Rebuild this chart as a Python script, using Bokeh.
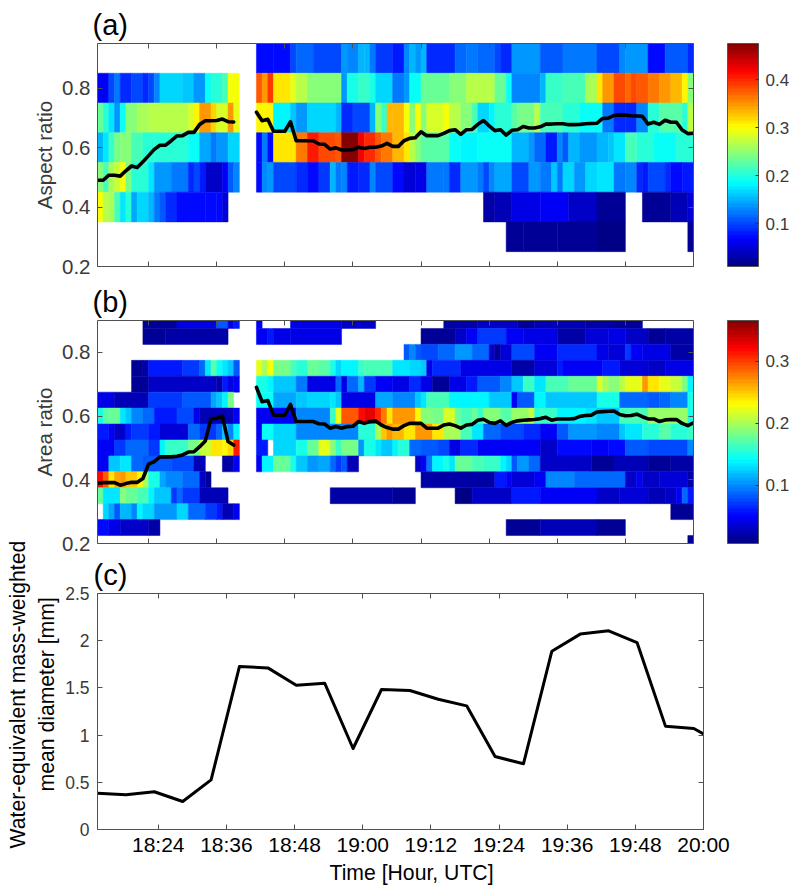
from bokeh.plotting import figure
from bokeh.layouts import column
from bokeh.models import (ColumnDataSource, LinearColorMapper, ColorBar, FixedTicker,
                          LinearAxis, Title, Range1d)
from bokeh.embed import file_html
from bokeh.resources import INLINE

N = None
NCOL = 105
T0 = 15  # minutes after 18:00 of the first column

# ---- panel (a): aspect-ratio histogram rows, (first column, value) runs
A_09 = [(0,N),(28,.075),(31,.07),(34,.10),(35,.115),(38,.105),(43,.135),(44,.13),(46,.155),(47,.15),(48,.125),(49,.095),(52,.08),(54,.13),(55,.155),(56,.135),(57,.15),(58,.09),(63,.115),(65,.125),(67,.115),(70,.10),(71,.085),(73,.14),(78,.11),(82,.125),(88,.10),(92,.13),(93,.14),(97,.075),(100,.11),(104,.09)]
A_08 = [(0,.065),(2,.10),(3,.12),(4,.085),(6,.105),(8,.085),(9,.10),(10,.13),(11,.165),(15,.16),(17,.14),(19,.185),(20,.2),(22,.22),(23,.30),(25,N),(28,.38),(29,.35),(30,.39),(31,.31),(34,.29),(35,.265),(37,.245),(43,.14),(44,.195),(46,.21),(48,.195),(49,.165),(52,.125),(54,.135),(55,.185),(57,.23),(62,.25),(65,.27),(67,.265),(70,.23),(72,.185),(73,.13),(78,.15),(79,.21),(82,.22),(86,.26),(88,.31),(89,.35),(91,.385),(93,.37),(94,.385),(95,.38),(97,.36),(99,.345),(101,.33),(103,.305),(104,.245)]
A_07 = [(0,.23),(1,.20),(2,.175),(3,.135),(4,.19),(5,.25),(7,.26),(9,.265),(16,.28),(17,.305),(18,.35),(20,.32),(21,.285),(23,.35),(24,.29),(25,N),(28,.305),(31,.18),(34,.16),(35,.14),(37,.17),(42,.15),(43,.085),(45,.10),(48,.15),(49,.25),(50,.21),(51,.33),(52,.335),(54,.30),(55,.25),(56,.30),(57,.25),(58,.285),(61,.30),(62,.27),(64,.25),(66,.22),(67,.165),(69,.18),(70,.20),(73,.225),(74,.24),(77,.27),(78,.22),(82,.20),(85,.19),(88,.185),(89,.125),(91,.09),(93,.085),(95,.13),(97,.20),(99,.225),(103,.20),(104,.27)]
A_06 = [(0,.15),(1,.175),(2,.21),(3,.24),(4,.25),(6,.22),(8,.205),(10,.20),(16,.185),(18,.145),(20,.12),(21,.135),(23,.165),(25,N),(28,.07),(29,.125),(30,.075),(31,.315),(35,.365),(37,.405),(39,.385),(42,.375),(43,.47),(46,.42),(47,.40),(49,.38),(50,.36),(52,.335),(54,.31),(55,.265),(56,.25),(57,.225),(62,.19),(64,.18),(67,.185),(73,.155),(76,.14),(77,.115),(79,.08),(81,.13),(82,.11),(83,.15),(85,.135),(88,.15),(90,.16),(91,.175),(93,.215),(95,.20),(98,.185),(102,.20)]
A_05 = [(0,.25),(1,.215),(2,.26),(3,.275),(4,.30),(5,.24),(6,.205),(9,.175),(10,.14),(13,.125),(16,.09),(17,.105),(18,.08),(19,.04),(22,.065),(23,.11),(24,.13),(25,N),(28,.07),(29,.13),(30,.14),(31,.105),(35,.09),(37,.07),(39,.095),(41,.15),(42,.12),(43,.13),(44,.08),(46,.09),(48,.13),(49,.105),(52,.075),(54,.05),(56,.055),(58,.12),(61,.125),(62,.085),(64,.14),(67,.12),(68,.10),(69,.13),(70,.145),(73,.105),(76,.14),(78,.12),(80,.16),(81,.12),(82,.165),(84,.135),(86,.17),(88,.175),(91,.125),(93,.13),(95,.09),(96,.08),(97,.10),(100,.085),(101,.07),(103,.08)]
A_04 = [(0,.30),(1,.27),(2,.26),(3,.22),(4,.175),(5,.20),(6,.145),(7,.17),(9,.155),(10,.125),(11,.11),(12,.09),(14,.07),(19,.07),(21,.075),(22,.05),(23,N),(68,.03),(70,.035),(73,.06),(78,.065),(83,.04),(88,.02),(93,N),(96,.025),(101,.035),(104,.05)]
A_03 = [(0,N),(72,.025),(75,.02),(81,.025),(88,.015),(93,N),(104,.02)]
A_ROWS = [(0.9, A_09), (0.8, A_08), (0.7, A_07), (0.6, A_06), (0.5, A_05), (0.4, A_04), (0.3, A_03)]

# ---- panel (b): area-ratio histogram rows
B_090 = [(0,N),(8,.015),(14,.04),(21,.08),(23,.04),(24,.06),(25,N),(28,.05),(29,N),(34,.04),(43,.03),(49,N),(61,.018),(67,.03),(74,.012),(77,.025),(86,.02),(91,.012),(96,N)]
B_085 = [(0,N),(8,.012),(12,.018),(23,N),(28,.05),(30,.06),(31,.04),(34,.045),(43,N),(57,.015),(63,.03),(65,.05),(67,.07),(72,.05),(75,.04),(81,.02),(86,.035),(90,.04),(93,.03),(97,.012),(100,.02)]
B_080 = [(0,N),(54,.08),(55,.10),(56,.08),(57,.075),(60,.085),(63,.105),(66,.09),(69,.03),(70,.015),(71,.035),(73,.075),(77,.05),(81,.065),(88,.04),(90,.035),(93,.07),(94,.05),(96,.04),(101,.02)]
B_075 = [(0,N),(6,.012),(8,.02),(9,.06),(15,.07),(18,.09),(19,.13),(20,.17),(21,.145),(22,.13),(23,.12),(24,.08),(25,N),(28,.225),(29,.2),(30,.23),(31,.185),(34,.165),(35,.155),(37,.18),(39,.17),(41,.15),(42,.125),(43,.14),(46,.16),(47,.165),(52,.135),(55,.125),(57,.12),(58,.04),(59,.065),(64,.04),(73,.02),(77,.035),(81,.06),(82,.05),(89,.06),(92,.035),(97,.03),(100,.045)]
B_070 = [(0,N),(6,.012),(9,.03),(21,.02),(22,.06),(23,.045),(24,.05),(25,N),(28,.15),(30,.14),(31,.12),(35,.095),(37,.04),(42,.09),(43,.04),(44,.09),(46,.115),(47,.07),(49,.05),(52,.04),(55,.065),(57,.04),(59,.015),(62,.045),(65,.06),(67,.08),(71,.10),(73,.12),(75,.16),(77,.135),(79,.165),(83,.18),(88,.215),(89,.20),(90,.19),(92,.205),(93,.225),(96,.27),(97,.24),(99,.225),(101,.21),(103,.185),(104,.14)]
B_065 = [(0,.04),(3,.025),(9,.07),(15,.08),(20,.11),(21,.12),(22,.14),(23,.185),(24,N),(28,.145),(31,.11),(35,.12),(37,.125),(41,.13),(42,.12),(43,.04),(49,.11),(52,.10),(56,.12),(57,.13),(58,.165),(62,.14),(69,.12),(73,.05),(74,.08),(77,.14),(79,.12),(88,.15),(92,.09),(97,.08),(99,.09),(101,.10),(104,.15)]
B_060 = [(0,.15),(1,.17),(2,.18),(4,.135),(5,.12),(6,.10),(8,.085),(10,.06),(14,.075),(17,.04),(18,.025),(24,.05),(25,N),(28,.05),(35,.10),(41,.16),(42,.22),(43,.29),(46,.32),(47,.33),(49,.305),(50,.28),(51,.24),(52,.27),(56,.235),(57,.19),(59,.185),(61,.215),(63,.18),(64,.165),(66,.18),(67,.16),(68,.19),(71,.17),(73,.195),(76,.21),(77,.155),(78,.16),(81,.14),(86,.135),(88,.12),(92,.165),(97,.195),(104,.15)]
B_055 = [(0,.06),(2,.05),(3,.03),(5,.06),(6,.07),(9,.06),(11,.035),(16,.09),(18,.07),(21,.09),(22,.12),(23,.10),(24,.14),(25,N),(28,.05),(29,.145),(31,.125),(35,.10),(46,.155),(49,.20),(50,.25),(51,.27),(52,.255),(54,.24),(56,.27),(59,.24),(61,.20),(64,.165),(66,.135),(68,.09),(71,.075),(75,.065),(78,.05),(81,.08),(83,.105),(88,.10),(92,.12),(93,.13),(96,.155),(99,.17),(101,.155),(104,.16)]
B_050 = [(0,.05),(3,.07),(5,.085),(9,.07),(11,.14),(12,.16),(16,.185),(18,.21),(20,.24),(22,.235),(23,.245),(24,.31),(25,N),(28,.06),(30,N),(31,.125),(35,.15),(37,.175),(39,.22),(41,.19),(42,.16),(43,.185),(46,.105),(47,.15),(49,.13),(50,.12),(52,.14),(53,.155),(55,.09),(57,.08),(60,.075),(62,.04),(64,.065),(67,.05),(78,.03),(81,.055),(87,.05),(90,.055),(93,.08),(97,.075),(104,.10)]
B_045 = [(0,.05),(2,.12),(4,.13),(5,.135),(6,.09),(8,.08),(13,.075),(17,.025),(19,N),(22,.02),(24,.05),(25,N),(28,.05),(29,.14),(31,.18),(34,.15),(35,.12),(37,.105),(39,.11),(41,.09),(42,.07),(43,.08),(44,.025),(46,N),(56,.03),(57,.05),(58,.095),(59,.14),(61,.15),(62,.135),(63,.18),(66,.165),(68,.16),(71,.14),(72,.125),(73,.08),(74,.105),(76,.09),(78,.03),(87,.012),(91,.025),(97,.015),(101,.02)]
B_040 = [(0,.32),(1,.29),(2,.24),(3,.26),(4,.27),(5,.25),(7,.235),(8,.20),(9,.15),(11,.11),(12,.10),(15,.085),(18,.03),(19,.015),(20,N),(57,.02),(70,.06),(72,.05),(73,.035),(77,.05),(79,.10),(84,.09),(91,.085),(93,.03),(95,.05),(96,.03),(99,.035),(104,.02)]
B_035 = [(0,.175),(1,.13),(4,.19),(5,.18),(7,.165),(9,.14),(10,.12),(13,.07),(14,.085),(15,.07),(18,.025),(23,N),(41,.02),(52,.015),(56,N),(63,.01),(66,.03),(73,.06),(78,.05),(88,.03),(92,.035),(97,.025),(100,.03),(102,.05),(103,.09),(104,.06)]
B_030 = [(0,N),(1,.125),(2,.11),(3,.08),(4,.115),(6,.10),(7,.14),(8,.125),(10,.105),(14,.125),(16,.085),(19,.07),(21,.06),(22,.025),(24,.05),(25,N),(101,.012)]
B_025 = [(0,.055),(2,.04),(4,.03),(9,.02),(11,N),(72,.015),(78,.025),(88,.015),(93,N)]
B_020 = [(0,N),(104,.012)]
B_ROWS = [(0.9,B_090),(0.85,B_085),(0.8,B_080),(0.75,B_075),(0.7,B_070),(0.65,B_065),(0.6,B_060),
          (0.55,B_055),(0.5,B_050),(0.45,B_045),(0.4,B_040),(0.35,B_035),(0.3,B_030),(0.25,B_025),(0.2,B_020)]

# ---- mean lines (one value per minute, None = no data)
LINE_A = [.490,.490,.507,.507,.504,.522,.538,.533,.552,.573,.594,.608,.608,.623,.639,.640,.651,.651,.678,.690,.690,.691,.696,.687,.686,
          N,N,N,
          .719,.690,.695,.655,.655,.655,.687,.623,.623,.623,.623,.612,.611,.595,.599,.592,.592,.593,.601,.597,.601,.601,.605,.614,.604,.604,
          .623,.631,.633,.653,.640,.640,.640,.648,.657,.660,.644,.660,.661,.678,.691,.673,.657,.660,.642,.658,.660,.671,.666,.666,.670,.679,.679,.680,.680,.677,.677,.678,.680,.681,.682,.698,.699,.708,.710,.709,.707,.706,.705,.679,.685,.678,.692,.685,.685,.659,.647,.648]
LINE_B = [.389,.391,.391,.391,.383,.388,.392,.392,.404,.449,.457,.472,.472,.472,.474,.478,.487,.488,.504,.522,.592,.593,.600,.520,.509,
          N,N,N,
          .690,.645,.649,.603,.603,.603,.637,.583,.583,.583,.583,.576,.575,.562,.567,.562,.567,.568,.583,.577,.583,.585,.572,.564,.559,.559,
          .570,.577,.577,.577,.562,.562,.562,.572,.575,.570,.562,.572,.574,.587,.590,.580,.577,.585,.571,.580,.585,.587,.588,.589,.592,.596,.587,.591,.591,.591,.592,.599,.602,.603,.613,.614,.615,.616,.605,.601,.602,.606,.598,.591,.591,.583,.588,.589,.589,.577,.570,.579]

# ---- panel (c): mass-weighted mean diameter
DM_MIN = [13.3,18.3,23.3,28.3,33.3,38.3,43.3,48.3,53.3,58.3,63.3,68.3,73.3,78.3,83.3,88.3,93.3,98.3,103.3,108.3,113.3,118.3,120.0]
DM_MM = [.385,.367,.40,.297,.526,1.727,1.712,1.529,1.55,.858,1.483,1.472,1.38,1.31,.773,.696,1.889,2.07,2.105,1.98,1.095,1.07,1.013]

TIME_TICKS = [24,36,48,60,72,84,96,108,120]
TIME_LABELS = ["18:24","18:36","18:48","19:00","19:12","19:24","19:36","19:48","20:00"]
A_YTICKS = [.2,.4,.6,.8]
B_YTICKS = [.2,.4,.6,.8]
C_YTICKS = [0,.5,1,1.5,2,2.5]
C_YLABELS = ["0","0.5","1","1.5","2","2.5"]
A_CB_TICKS = [.1,.2,.3,.4]
B_CB_TICKS = [.1,.2,.3]

FONT = "Liberation Sans"
GREY = "#3a3a3a"

def jet(n=64):
    def ch(x):
        return max(0.0, min(1.0, 1.5 - abs(4 * x)))
    out = []
    for i in range(n):
        f = (i + .5) / n
        r, g, b = ch(f - .75), ch(f - .5), ch(f - .25)
        out.append("#%02x%02x%02x" % (round(r * 255), round(g * 255), round(b * 255)))
    return out
JET = jet()

def cells(rows, half):
    d = dict(left=[], right=[], bottom=[], top=[], v=[])
    for yc, runs in rows:
        for i, (start, v) in enumerate(runs):
            end = runs[i + 1][0] if i + 1 < len(runs) else NCOL
            if v is None:
                continue
            d["left"].append(T0 + start); d["right"].append(T0 + end)
            d["bottom"].append(yc - half); d["top"].append(yc + half); d["v"].append(v)
    return ColumnDataSource(d)

def style_box(p, xticks, yticks, xlabels=None, ylabels=None, x_size="21px", y_size="20.5px"):
    xt = FixedTicker(ticks=xticks); yt = FixedTicker(ticks=yticks)
    top = LinearAxis(ticker=xt); right = LinearAxis(ticker=yt)
    p.add_layout(top, "above"); p.add_layout(right, "right")
    p.xaxis.ticker = xt; p.yaxis.ticker = yt
    for ax in p.xaxis + p.yaxis:
        ax.major_tick_in = 5; ax.major_tick_out = 0
        ax.minor_tick_line_color = None
        ax.axis_line_color = "#505050"; ax.major_tick_line_color = "#505050"
    for ax in (top, right):
        ax.major_label_overrides = {t: "" for t in (xticks if ax is top else yticks)}
        ax.major_label_standoff = 0
        ax.major_label_text_font_size = "1px"
    bottom, left = p.below[0], p.left[0]
    bottom.major_label_overrides = dict(zip(xticks, xlabels or [""] * len(xticks)))
    bottom.major_label_text_font = FONT; bottom.major_label_text_font_size = x_size
    bottom.major_label_text_color = "black"
    left.major_label_text_font = FONT; left.major_label_text_font_size = y_size
    left.major_label_text_color = GREY
    left.major_label_standoff = 7
    if ylabels:
        left.major_label_overrides = dict(zip(yticks, ylabels))
    p.xgrid.visible = False; p.ygrid.visible = False
    p.outline_line_color = None
    p.border_fill_color = None
    return left, bottom

def side_title(p, text, place, align="left", offset=0, standoff=0, size="21.2px"):
    p.add_layout(Title(text=text, align=align, offset=offset, standoff=standoff, text_font=FONT,
                       text_font_size=size, text_font_style="normal", text_color="black"), place)

def heat_panel(rows, half, ymax, line, low, high, cb_ticks, yticks, ylabel, tag, height_top, height_bottom):
    p = figure(width=790, height=height_top + 223 + height_bottom, x_range=Range1d(T0, T0 + NCOL),
               y_range=Range1d(0.2, ymax), output_backend="svg", toolbar_location=None,
               frame_width=596, frame_height=223, min_border_left=97, min_border_right=97,
               min_border_top=height_top, min_border_bottom=height_bottom)
    mapper = LinearColorMapper(palette=JET, low=low, high=high)
    tf = {"field": "v", "transform": mapper}
    p.quad(left="left", right="right", bottom="bottom", top="top", source=cells(rows, half),
           fill_color=tf, line_color=tf, line_width=0.5)
    xs = [T0 + k for k in range(len(line))]
    ys = [float("nan") if v is None else v for v in line]
    p.line(xs, ys, line_color="black", line_width=3.6, line_join="round", line_cap="round")
    left, bottom = style_box(p, TIME_TICKS, yticks)
    left.axis_label = ylabel
    left.axis_label_text_font = FONT; left.axis_label_text_font_size = "20.5px"
    left.axis_label_text_font_style = "normal"; left.axis_label_text_color = GREY
    left.axis_label_standoff = 3
    cb = ColorBar(color_mapper=mapper, ticker=FixedTicker(ticks=cb_ticks), width=31, height=223,
                  padding=0, margin=0, location=(34, 0), bar_line_color="#555555",
                  major_tick_line_color="#333333", major_tick_in=3, major_tick_out=0,
                  minor_tick_line_color=None, major_label_text_font=FONT,
                  major_label_text_font_size="17px", major_label_text_color=GREY,
                  label_standoff=7, background_fill_color=None, border_line_color=None)
    p.add_layout(cb, "right")
    side_title(p, tag, "above", offset=-5, standoff=5, size="29px")
    return p

pa = heat_panel(A_ROWS, .05, .95, LINE_A, .011, .475, A_CB_TICKS, A_YTICKS, "Aspect ratio", "(a)", 43, 12)
pb = heat_panel(B_ROWS, .025, .9, LINE_B, .006, .366, B_CB_TICKS, B_YTICKS, "Area ratio", "(b)", 42, 10)

pc = figure(width=790, height=54 + 236 + 58, x_range=Range1d(13.3, 120), y_range=Range1d(0, 2.5),
            output_backend="svg", toolbar_location=None, frame_width=606, frame_height=236,
            min_border_left=94, min_border_right=90, min_border_top=54, min_border_bottom=58)
pc.margin = (-14, 0, 0, 0)
pc.line(DM_MIN, DM_MM, line_color="black", line_width=3, line_join="round")
cl, cb_ax = style_box(pc, TIME_TICKS, C_YTICKS, TIME_LABELS, C_YLABELS, y_size="17.5px")
cl.major_label_standoff = 8
cb_ax.major_label_standoff = 3
side_title(pc, "(c)", "above", offset=-4, standoff=5, size="29px")
side_title(pc, "Time [Hour, UTC]", "below", offset=232)
side_title(pc, "mean diameter [mm]", "left", offset=38, standoff=9)
side_title(pc, "Water-equivalent mass-weighted", "left", offset=-19, standoff=0)

page = column(pa, pb, pc, spacing=0)
open("out.html", "w").write(file_html(page, INLINE))
